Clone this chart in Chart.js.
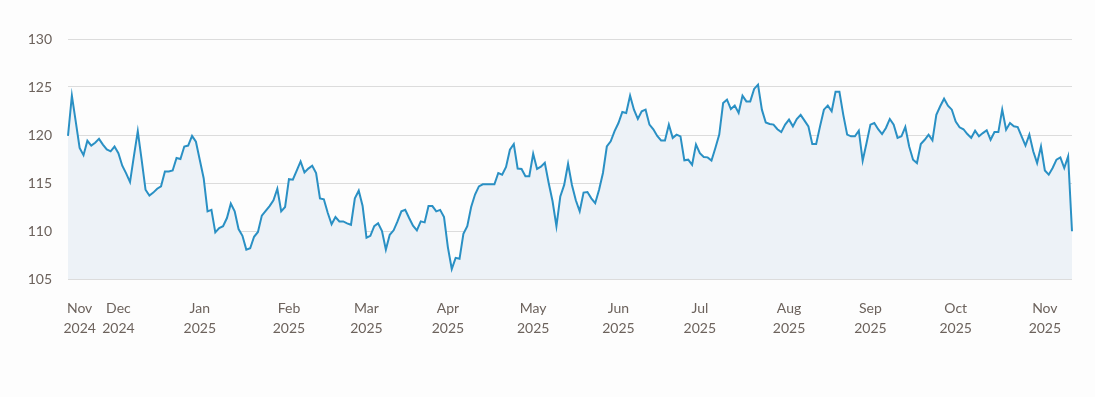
<!DOCTYPE html>
<html>
<head>
<meta charset="utf-8">
<script src="https://cdn.jsdelivr.net/npm/chart.js@4/dist/chart.umd.min.js"></script>
<style>
  html, body { margin: 0; padding: 0; background: #fdfdfd; }
  #wrap { width: 1095px; height: 397px; position: relative; }
</style>
</head>
<body>
<div id="wrap"><canvas id="priceChart"></canvas></div>
<script>
  // daily closes (Nov 2024 - Nov 2025)
  var prices = [
    119.9, 124.1, 121.4, 118.65, 117.9, 119.4, 118.9, 119.2, 119.6, 119.0,
    118.5, 118.3, 118.8, 118.1, 116.8, 116.0, 115.1, 117.8, 120.4, 117.4,
    114.3, 113.7, 114.0, 114.4, 114.65, 116.2, 116.2, 116.3, 117.6, 117.5,
    118.8, 118.9, 119.9, 119.3, 117.4, 115.5, 112.05, 112.2, 109.86, 110.3,
    110.5, 111.35, 112.85, 112.05, 110.2, 109.5, 108.06, 108.2, 109.4, 109.9,
    111.6, 112.1, 112.6, 113.2, 114.4, 112.05, 112.5, 115.4, 115.35, 116.3,
    117.25, 116.1, 116.5, 116.8, 116.04, 113.4, 113.3, 111.9, 110.7, 111.45,
    111.0, 111.0, 110.8, 110.65, 113.4, 114.2, 112.6, 109.3, 109.5, 110.5,
    110.8, 110.0, 108.06, 109.6, 110.07, 111.0, 112.05, 112.2, 111.35, 110.55,
    110.07, 111.0, 110.9, 112.6, 112.6, 112.05, 112.2, 111.45, 108.3, 106.04,
    107.2, 107.1, 109.7, 110.5, 112.5, 113.8, 114.65, 114.86, 114.86, 114.86,
    114.86, 116.04, 115.87, 116.67, 118.47, 119.06, 116.5, 116.46, 115.7, 115.7,
    118.05, 116.46, 116.7, 117.1, 115.0, 113.1, 110.5, 113.6, 114.8, 117.0,
    114.8, 113.2, 112.05, 114.0, 114.06, 113.4, 112.9, 114.3, 116.04, 118.8,
    119.34, 120.4, 121.25, 122.4, 122.3, 124.1, 122.64, 121.67, 122.47, 122.64,
    121.08, 120.6, 119.9, 119.44, 119.44, 121.08, 119.7, 120.04, 119.86, 117.36,
    117.43, 116.9, 119.0, 118.1, 117.7, 117.67, 117.33, 118.65, 120.04, 123.33,
    123.68, 122.7, 123.06, 122.3, 124.1, 123.5, 123.5, 124.8, 125.24, 122.64,
    121.3, 121.15, 121.08, 120.6, 120.3, 121.08, 121.6, 120.9, 121.67, 122.1,
    121.5, 120.9, 119.06, 119.06, 120.9, 122.64, 123.06, 122.47, 124.5, 124.5,
    122.1, 120.04, 119.86, 119.86, 120.45, 117.33, 119.17, 121.08, 121.25, 120.6,
    120.1, 120.73, 121.67, 121.08, 119.7, 119.86, 120.83, 118.8, 117.43, 117.08,
    119.06, 119.5, 120.04, 119.44, 122.1, 122.99, 123.78, 123.06, 122.64, 121.4,
    120.8, 120.6, 120.1, 119.7, 120.45, 119.86, 120.2, 120.5, 119.5, 120.3,
    120.3, 122.64, 120.55, 121.25, 120.9, 120.83, 119.86, 118.9, 120.04, 118.3,
    117.08, 118.8, 116.3, 115.87, 116.56, 117.43, 117.67, 116.56, 117.78, 109.97
  ];

  // index of first trading day shown for each month label
  var monthIndex = [3, 13, 34, 57, 77, 98, 120, 142, 163, 186, 207, 229, 252];
  var monthNames = ['Nov', 'Dec', 'Jan', 'Feb', 'Mar', 'Apr', 'May', 'Jun', 'Jul', 'Aug', 'Sep', 'Oct', 'Nov'];
  var monthYears = ['2024', '2024', '2025', '2025', '2025', '2025', '2025', '2025', '2025', '2025', '2025', '2025', '2025'];

  var yTicks = [105, 110, 115, 120, 125, 130];

  var labels = prices.map(function(p, i) { return i; });

  var textColor = '#6c625c';
  var gridColor = '#dcdcdc';

  var ctx = document.getElementById('priceChart').getContext('2d');

  new Chart(ctx, {
    type: 'line',
    data: {
      labels: labels,
      datasets: [{
        data: prices,
        borderColor: '#2a90c4',
        borderWidth: 2,
        backgroundColor: '#edf2f7',
        fill: 'start',
        pointRadius: 0,
        tension: 0
      }]
    },
    options: {
      responsive: true,
      maintainAspectRatio: false,
      animation: false,
      layout: { padding: { top: 39, right: 23, left: 0, bottom: 0 } },
      plugins: { legend: { display: false }, tooltip: { enabled: false } },
      scales: {
        x: {
          type: 'category',
          grid: { display: false },
          border: { display: false },
          afterFit: function(s) { s.height = 397 - 279; },
          ticks: {
            autoSkip: false,
            maxRotation: 0,
            padding: 11,
            color: textColor,
            font: { family: 'Lato', size: 14, lineHeight: 1.45 },
            callback: function(v, i) {
              var k = monthIndex.indexOf(i);
              if (k < 0) return null;
              return [monthNames[k], monthYears[k]];
            }
          }
        },
        y: {
          min: yTicks[0],
          max: yTicks[yTicks.length - 1],
          afterFit: function(s) { s.width = 68; },
          afterBuildTicks: function(s) {
            s.ticks = yTicks.map(function(v) { return { value: v }; });
          },
          grid: { color: gridColor, drawTicks: false, lineWidth: 1 },
          border: { display: false },
          ticks: {
            padding: 16,
            color: textColor,
            font: { family: 'Lato', size: 14 }
          }
        }
      }
    }
  });
</script>
</body>
</html>
